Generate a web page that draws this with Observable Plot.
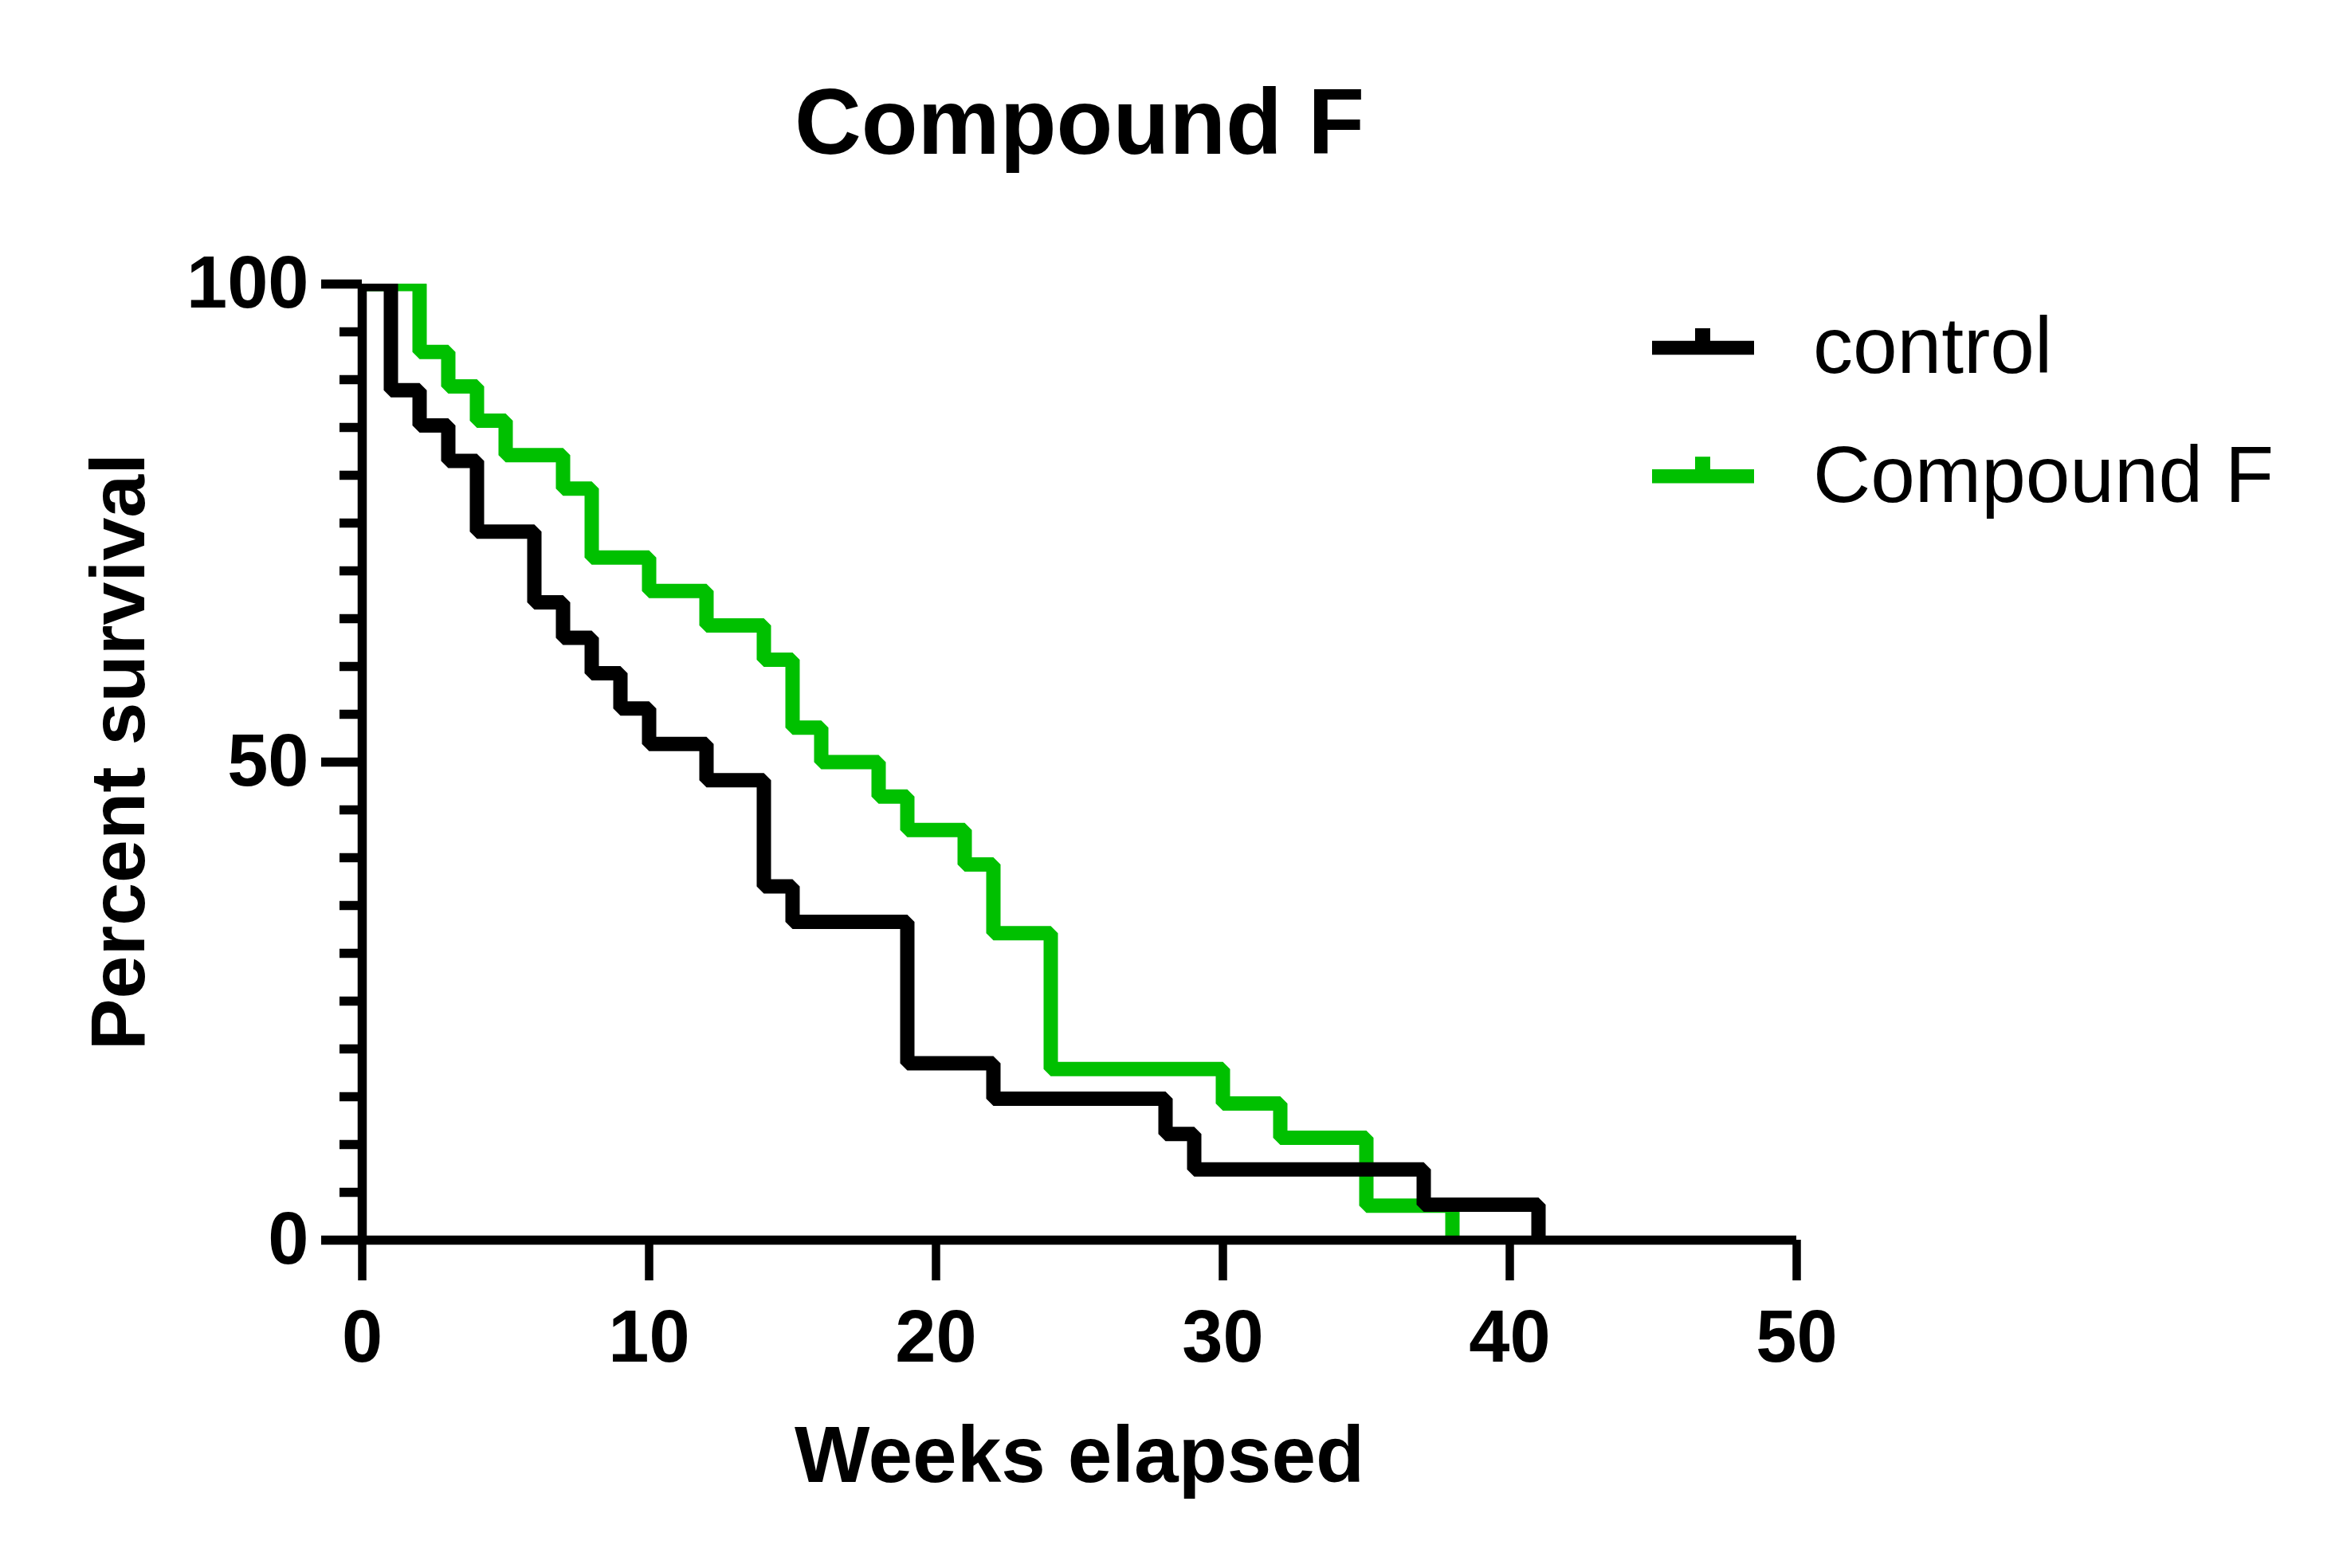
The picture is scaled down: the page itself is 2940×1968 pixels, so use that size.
<!DOCTYPE html>
<html>
<head>
<meta charset="utf-8">
<script src="https://cdn.jsdelivr.net/npm/d3@7"></script>
<script src="https://cdn.jsdelivr.net/npm/@observablehq/plot@0.6"></script>
<style>
  html, body { margin: 0; padding: 0; background: #fff; }
  #wrap { position: relative; width: 2940px; height: 1968px; overflow: hidden; }
  #wrap > svg { display: block; }
  #legend { position: absolute; left: 0; top: 0; pointer-events: none; }
</style>
</head>
<body>
<div id="wrap"></div>
<script>
// ---- data ----
const controlWeeks    = [0, 1, 2, 3, 4, 6, 7, 8, 9, 10, 12, 14, 15, 19, 22, 28, 29, 37, 41];
const controlSurvival = [100, 88.9, 85.2, 81.5, 74.1, 66.7, 63.0, 59.3, 55.6, 51.9, 48.1, 37.0, 33.3, 18.5, 14.8, 11.1, 7.4, 3.7, 0];

const compoundWeeks    = [0, 2, 3, 4, 5, 7, 8, 10, 12, 14, 15, 16, 18, 19, 21, 22, 24, 30, 32, 35, 38];
const compoundSurvival = [100, 92.9, 89.3, 85.7, 82.1, 78.6, 71.4, 67.9, 64.3, 60.7, 53.6, 50.0, 46.4, 42.9, 39.3, 32.1, 17.9, 14.3, 10.7, 3.6, 0];

const seriesNames  = ["control", "Compound F"];
const seriesColors = ["#000000", "#00c000"];

const xTicks      = [0, 10, 20, 30, 40, 50];
const yMajorTicks = [0, 50, 100];
const yMinorTicks = [5, 10, 15, 20, 25, 30, 35, 40, 45, 55, 60, 65, 70, 75, 80, 85, 90, 95];

const chartTitle = "Compound F";
const xLabel = "Weeks elapsed";
const yLabel = "Percent survival";

// ---- tidy rows ----
const controlRows  = controlWeeks.map((w, i) => ({week: w, survival: controlSurvival[i], group: seriesNames[0]}));
const compoundRows = compoundWeeks.map((w, i) => ({week: w, survival: compoundSurvival[i], group: seriesNames[1]}));

const lineOpts = {
  x: "week", y: "survival", stroke: "group", curve: "step-after",
  strokeWidth: 18, strokeLinejoin: "miter", strokeLinecap: "butt", clip: true
};

const font = "'Liberation Sans', Arial, Helvetica, sans-serif";

const chart = Plot.plot({
  width: 2940,
  height: 1968,
  marginLeft: 454,
  marginRight: 686,
  marginTop: 356,
  marginBottom: 412,
  x: {domain: [0, 50]},
  y: {domain: [0, 100]},
  color: {domain: seriesNames, range: seriesColors},
  style: {background: "#fff", color: "#000", fontFamily: font, fontWeight: "bold", fontSize: "92px", overflow: "visible"},
  marks: [
    Plot.line(compoundRows, lineOpts),
    Plot.line(controlRows, lineOpts),
    Plot.ruleX([0], {y1: 0, y2: 100, strokeWidth: 11.5}),
    Plot.ruleY([0], {x1: 0, x2: 50, strokeWidth: 11.5}),
    Plot.axisY(yMinorTicks, {tickSize: 28, strokeWidth: 11.5, tickFormat: () => "", label: null}),
    Plot.axisY(yMajorTicks, {tickSize: 51, tickPadding: 16, strokeWidth: 11.5, label: null, fontSize: 92, fontWeight: "bold", fontFamily: font}),
    Plot.axisX(xTicks, {tickSize: 51, tickPadding: 36, strokeWidth: 10.5, label: null, fontSize: 92, fontWeight: "bold", fontFamily: font}),
    Plot.text([chartTitle], {frameAnchor: "top", textAnchor: "middle", lineAnchor: "bottom", dy: -164, fontSize: 116, fontWeight: "bold", fontFamily: font}),
    Plot.text([xLabel], {frameAnchor: "bottom", textAnchor: "middle", lineAnchor: "bottom", dy: 303, fontSize: 100, fontWeight: "bold", fontFamily: font}),
    Plot.text([yLabel], {frameAnchor: "left", textAnchor: "middle", lineAnchor: "bottom", rotate: -90, dx: -274, dy: -13, fontSize: 97, fontWeight: "bold", fontFamily: font})
  ]
});

const wrap = document.getElementById("wrap");
wrap.appendChild(chart);

// ---- legend (overlay) ----
const legendItems = seriesNames.map((name, i) => ({name, color: seriesColors[i]}));
const legend = d3.select(wrap).append("svg")
  .attr("id", "legend")
  .attr("width", 2940)
  .attr("height", 1968);

const rowY0 = 436.5, rowGap = 161.2;
const g = legend.selectAll("g").data(legendItems).join("g")
  .attr("transform", (d, i) => `translate(0,${rowY0 + i * rowGap})`);

g.append("line")
  .attr("x1", 2073).attr("x2", 2201).attr("y1", 0).attr("y2", 0)
  .attr("stroke", d => d.color).attr("stroke-width", 17.6);
g.append("line")
  .attr("x1", 2136.5).attr("x2", 2136.5).attr("y1", 0).attr("y2", -24.5)
  .attr("stroke", d => d.color).attr("stroke-width", 19);
g.append("text")
  .attr("x", 2275).attr("y", 31.8)
  .attr("font-family", font)
  .attr("font-size", 100)
  .attr("fill", "#000")
  .text(d => d.name);
</script>
</body>
</html>
